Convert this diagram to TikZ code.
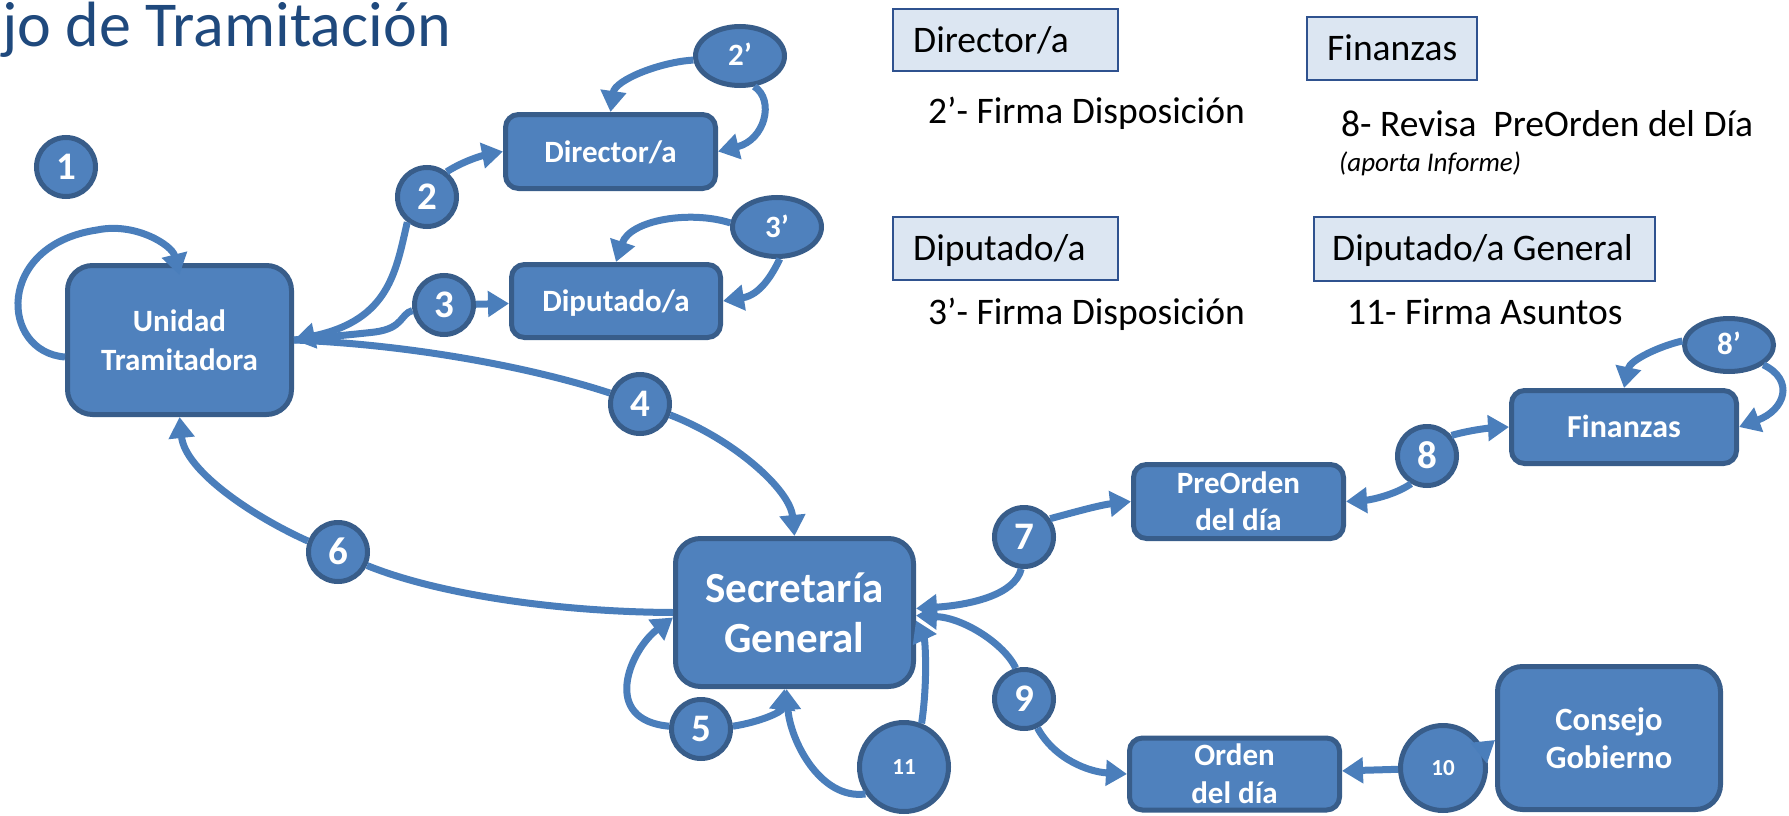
\documentclass[tikz,border=0pt]{standalone}
\usepackage{fontspec}
\setmainfont{Carlito}
\usetikzlibrary{arrows.meta,shapes.geometric}
\definecolor{acc}{HTML}{4F81BD}
\definecolor{accd}{HTML}{385D8A}
\definecolor{conc}{HTML}{4A7EBB}
\definecolor{legf}{HTML}{DCE6F2}
\definecolor{legd}{HTML}{2F528F}
\definecolor{titc}{HTML}{1F497D}
\tikzset{
  box/.style={draw=accd, line width=5pt, fill=acc, text=white, align=center, inner sep=0pt},
  boxtxt/.style={font=\bfseries\fontsize{31}{39}\selectfont},
  num/.style={circle, draw=accd, line width=5pt, fill=acc, text=white, inner sep=0pt,
    minimum size=59pt, font=\bfseries\fontsize{39}{39}\selectfont, text height=25pt, text depth=0pt},
  numell/.style={ellipse, draw=accd, line width=5pt, fill=acc, text=white, inner sep=0pt,
    minimum width=89pt, minimum height=59pt, font=\bfseries\fontsize{31}{31}\selectfont, text height=20pt, text depth=0pt},
  numbig/.style={circle, draw=accd, line width=5pt, fill=acc, text=white, inner sep=0pt,
    font=\bfseries\fontsize{23}{23}\selectfont, text height=15pt, text depth=0pt},
  conn/.style={draw=conc, line width=7pt, -{Triangle[length=21pt,width=25pt]}},
  plain/.style={draw=conc, line width=7pt},
  legbox/.style={draw=legd, line width=2.5pt, fill=legf, inner sep=0pt},
  legtxt/.style={anchor=base west, inner sep=0pt, font=\fontsize{37.5}{37.5}\selectfont},
}
\begin{document}
\begin{tikzpicture}[x=1pt,y=-1pt]
\useasboundingbox (0,0) rectangle (1789,816);

% title
\node[anchor=base west, inner sep=0pt, text=titc, font=\fontsize{64}{64}\selectfont] (title) at (2,47) {jo de Tramitación};

% legend
\node[legbox, minimum width=225pt, minimum height=62pt] (lgD) at (1005.5,40) {};
\node[legtxt] (lgDt) at (913,53) {Director/a};
\node[legbox, minimum width=170pt, minimum height=63pt] (lgF) at (1392,48.5) {};
\node[legtxt] (lgFt) at (1327,61) {Finanzas};
\node[legbox, minimum width=225pt, minimum height=63pt] (lgP) at (1005.5,248.5) {};
\node[legtxt] (lgPt) at (913,260) {Diputado/a};
\node[legbox, minimum width=341pt, minimum height=64pt] (lgG) at (1484.5,249) {};
\node[legtxt] (lgGt) at (1332,260) {Diputado/a General};
\node[legtxt] (d2p) at (928,123) {2’- Firma Disposición};
\node[legtxt] (d8) at (1341,136) {8- Revisa~ PreOrden del Día};
\node[anchor=base west, inner sep=0pt, font=\itshape\fontsize{27}{27}\selectfont] (d8b) at (1339,171) {(aporta Informe)};
\node[legtxt] (d3p) at (928,324) {3’- Firma Disposición};
\node[legtxt] (d11) at (1347,324) {11- Firma Asuntos};

% boxes
\node[box, boxtxt, minimum width=224pt, minimum height=149pt, rounded corners=25pt] (U) at (179.5,340) {Unidad\\Tramitadora};
\node[box, boxtxt, minimum width=210pt, minimum height=74pt, rounded corners=13pt, text height=21pt, text depth=0pt] (D) at (610.5,151.5) {Director/a};
\node[box, boxtxt, minimum width=209pt, minimum height=73pt, rounded corners=13pt, text height=21pt, text depth=0pt] (P) at (616,301) {Diputado/a};
\node[box, minimum width=238pt, minimum height=148pt, rounded corners=25pt, font=\bfseries\fontsize{43}{50}\selectfont] (S) at (794.5,612.5) {Secretaría\\General};
\node[box, minimum width=210pt, minimum height=74pt, rounded corners=13pt, font=\bfseries\fontsize{31}{37}\selectfont] (PO) at (1238.5,501.5) {PreOrden\\del día};
\node[box, minimum width=225pt, minimum height=73pt, rounded corners=13pt, font=\bfseries\fontsize{32}{32}\selectfont, text height=20pt, text depth=0pt] (F) at (1624,427) {Finanzas};
\node[box, minimum width=210pt, minimum height=72pt, rounded corners=13pt, font=\bfseries\fontsize{31}{38}\selectfont] (O) at (1234.5,774) {Orden\\del día};
\node[box, minimum width=223pt, minimum height=143pt, rounded corners=25pt, font=\bfseries\fontsize{32.5}{38}\selectfont] (C) at (1609,738) {Consejo\\Gobierno};

% numbered circles
\node[num] (c1) at (66,167) {1};
\node[num] (c2) at (427,197) {2};
\node[num] (c3) at (444,305) {3};
\node[num] (c4) at (640,404) {4};
\node[num] (c5) at (701,729) {5};
\node[num] (c6) at (338,552) {6};
\node[num] (c7) at (1024,537) {7};
\node[num] (c8) at (1427,456) {8};
\node[num] (c9) at (1024,699) {9};
\node[numbig, minimum size=89pt] (c11) at (904,767) {11};
\node[numbig, minimum size=85pt] (c10) at (1443,768) {10};
\node[numell] (c2p) at (740,56) {2’};
\node[numell] (c3p) at (777,227) {3’};
\node[numell, minimum height=53pt, text height=18pt] (c8p) at (1729,345) {8’};

% connectors
\draw[conn] ([yshift=-17pt]U.west) .. controls (0,352) and (-5,245) .. (97,230)
   .. controls (135,222) and (172,245) .. ([yshift=-12pt]U.north);
\draw[plain] (c3.190) .. controls (400,314) and (404,328) .. (375,332)
   .. controls (340,336) and (310,338) .. (U.east);
\draw[plain] (c4.160) .. controls (540,370) and (420,345) .. (U.east);
\draw[conn] (c2.232) .. controls (396,270) and (390,320) .. (U.east);
\draw[conn] (c2.52) .. controls (465,160) and (485,155) .. (D.west);
\draw[conn] (c3) -- (P);
\draw[conn] (c2p.185) .. controls (660,62) and (615,80) .. (D.north);
\draw[conn] (c2p.-65) .. controls (775,100) and (765,140) .. (D.east);
\draw[conn] (c3p.175) .. controls (690,210) and (630,220) .. (P.north);
\draw[conn] (c3p.-85) .. controls (772,275) and (760,295) .. (P.east);
\draw[conn] (c4.-20) .. controls (735,440) and (790,490) .. (S.north);
\draw[plain] (S.west) .. controls (560,612) and (440,595) .. (c6.-25);
\draw[conn] (c6.160) .. controls (250,515) and (185,470) .. (U.south);
\draw[conn] (c5.175) .. controls (600,720) and (630,650) .. ([yshift=-5pt]S.west);
\draw[conn] (c11.215) .. controls (820,800) and (790,740) .. ([xshift=-8pt]S.south);
\draw[conn] (c5.5) .. controls (760,722) and (782,712) .. ([xshift=-10pt]S.south);
\draw[conn] (c11.68) .. controls (928,680) and (925,640) .. ([yshift=-8pt]S.east);
\draw[conn] (c9.105) .. controls (1005,645) and (965,618) .. ([yshift=-3pt]S.east);
\draw[conn] (c7.265) .. controls (1015,595) and (970,605) .. ([yshift=4pt]S.east);
\draw[conn] (c7.35) .. controls (1075,512) and (1100,505) .. (PO.west);
\draw[conn] (c9.-65) .. controls (1055,760) and (1090,772) .. (O.west);
\draw[conn] (c8.40) .. controls (1470,430) and (1490,428) .. (F.west);
\draw[conn] (c8.240) .. controls (1395,495) and (1370,500) .. (PO.east);
\draw[conn] (c8p.175) .. controls (1660,346) and (1630,360) .. (F.north);
\draw[conn] (c8p.-30) .. controls (1795,380) and (1785,410) .. (F.east);
\draw[conn] (c10) -- (O);
\draw[conn] (c10.25) -- ([yshift=-2pt]C.west);
\end{tikzpicture}
\end{document}
